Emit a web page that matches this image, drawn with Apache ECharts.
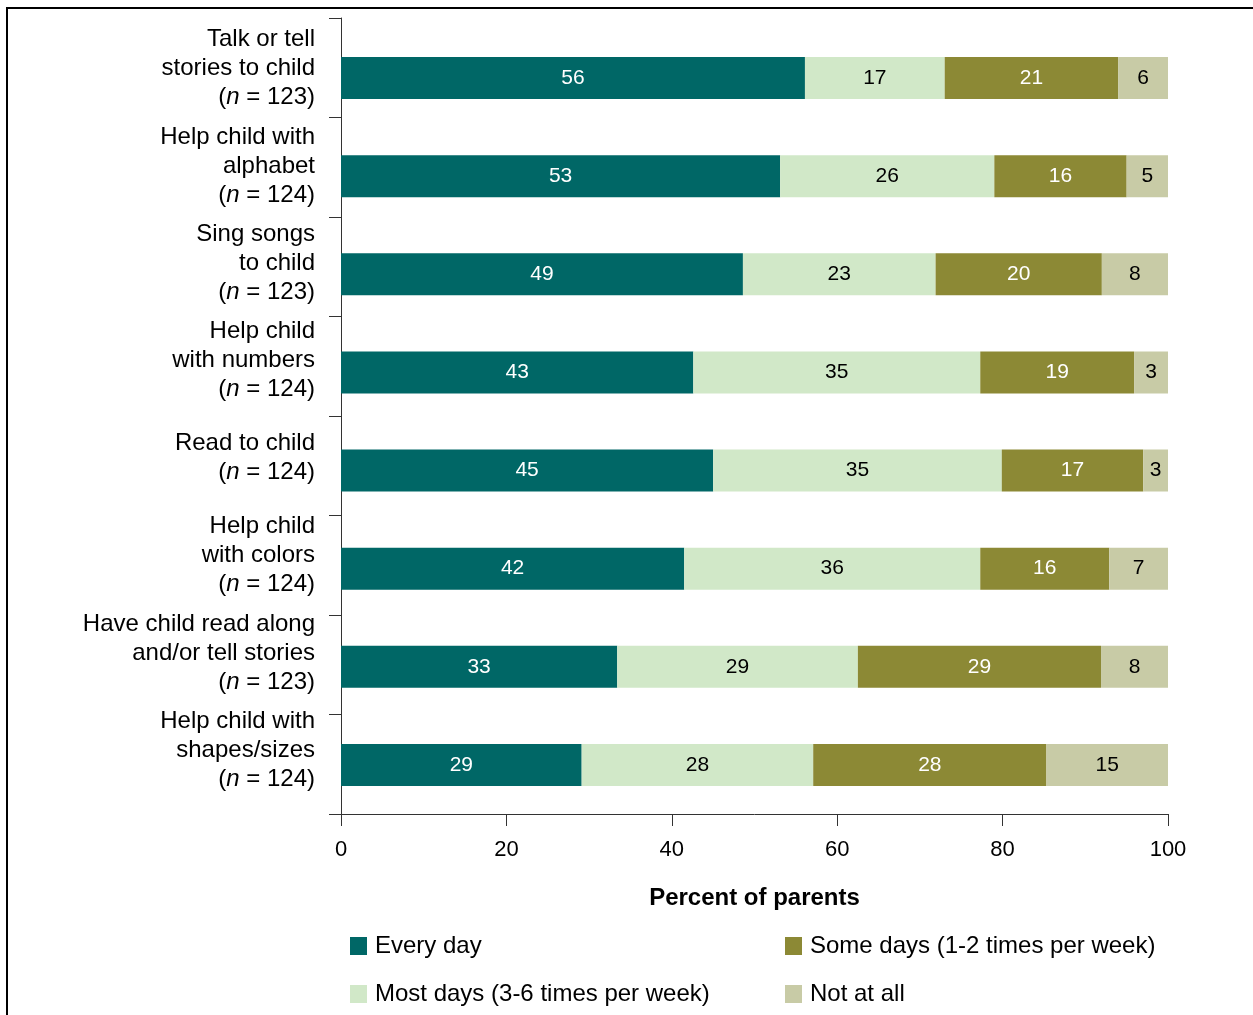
<!DOCTYPE html>
<html>
<head>
<meta charset="utf-8">
<script src="https://cdn.jsdelivr.net/npm/echarts@6/dist/echarts.min.js"></script>
<style>html,body{margin:0;padding:0;background:#fff}#c{width:1253px;height:1015px}</style>
</head>
<body>
<div id="c"></div>
<script>
// ---- data ----
var categories = [
  'Talk or tell\nstories to child',
  'Help child with\nalphabet',
  'Sing songs\nto child',
  'Help child\nwith numbers',
  'Read to child',
  'Help child\nwith colors',
  'Have child read along\nand/or tell stories',
  'Help child with\nshapes/sizes'
];
var sampleSizes = [123, 124, 123, 124, 124, 124, 123, 124];
var seriesNames = ['Every day', 'Most days (3-6 times per week)', 'Some days (1-2 times per week)', 'Not at all'];
// bar lengths as drawn (percent)
var everyDay = [56.1, 53.1, 48.6, 42.6, 45.0, 41.5, 33.4, 29.1];
var mostDays = [16.9, 25.9, 23.3, 34.7, 34.9, 35.8, 29.1, 28.0];
var someDays = [21.0, 16.0, 20.1, 18.6, 17.1, 15.6, 29.4, 28.2];
var notAtAll = [6.0, 5.0, 8.0, 4.1, 3.0, 7.1, 8.1, 14.7];
// printed value labels
var everyDayLabels = [56, 53, 49, 43, 45, 42, 33, 29];
var mostDaysLabels = [17, 26, 23, 35, 35, 36, 29, 28];
var someDaysLabels = [21, 16, 20, 19, 17, 16, 29, 28];
var notAtAllLabels = [6, 5, 8, 3, 3, 7, 8, 15];
var xTicks = [0, 20, 40, 60, 80, 100];

var FONT = "'Liberation Sans', Arial, sans-serif";
var colors = ['#006766', '#d1e8c8', '#8c8935', '#c8cba6'];
var labelColors = ['#ffffff', '#000000', '#ffffff', '#000000'];
var values = [everyDay, mostDays, someDays, notAtAll];
var labelsArr = [everyDayLabels, mostDaysLabels, someDaysLabels, notAtAllLabels];

var chart = echarts.init(document.getElementById('c'), null, {renderer: 'canvas'});

var series = seriesNames.map(function (name, i) {
  return {
    name: name,
    type: 'bar',
    stack: 'total',
    xAxisIndex: 1,
    yAxisIndex: 1,
    barWidth: 42,
    data: values[i],
    itemStyle: {color: colors[i]},
    label: {
      show: true,
      position: 'inside',
      color: labelColors[i],
      fontFamily: FONT,
      fontSize: 21,
      formatter: function (p) { return String(labelsArr[i][p.dataIndex]); }
    },
    emphasis: {disabled: true}
  };
});

var option = {
  animation: false,
  backgroundColor: '#ffffff',
  textStyle: {fontFamily: FONT},
  graphic: [{
    type: 'rect',
    shape: {x: 7, y: 8, width: 1250, height: 1015},
    style: {fill: 'none', stroke: '#000', lineWidth: 2},
    silent: true
  }],
  grid: [
    {left: 341, right: 85, top: 18, bottom: 201, containLabel: false},
    {left: 341, right: 85, top: 29, bottom: 201, containLabel: false},
    {left: 341, right: 85, top: 20, bottom: 216, containLabel: false}
  ],
  xAxis: [
    {
      gridIndex: 0, type: 'value', min: 0, max: 100, interval: 20,
      axisLine: {show: true, lineStyle: {color: '#333', width: 1}},
      axisTick: {show: true, length: 12, lineStyle: {color: '#333'}},
      splitLine: {show: false},
      axisLabel: {
        fontFamily: FONT, fontSize: 22, color: '#000', margin: 25,
        formatter: function (v) { return xTicks.indexOf(v) >= 0 ? String(v) : ''; }
      },
      name: 'Percent of parents',
      nameLocation: 'middle',
      nameGap: 72,
      nameTextStyle: {fontFamily: FONT, fontSize: 24, fontWeight: 'bold', color: '#000'}
    },
    {gridIndex: 1, type: 'value', min: 0, max: 100, show: false},
    {gridIndex: 2, type: 'value', min: 0, max: 100, show: false}
  ],
  yAxis: [
    {
      gridIndex: 0, type: 'category', inverse: true, data: categories,
      axisLine: {show: true, lineStyle: {color: '#333', width: 1}},
      axisTick: {show: true, length: 12, lineStyle: {color: '#333'}},
      axisLabel: {show: false}
    },
    {gridIndex: 1, type: 'category', inverse: true, data: categories, show: false},
    {
      gridIndex: 2, type: 'category', inverse: true, data: categories,
      axisLine: {show: false}, axisTick: {show: false},
      axisLabel: {
        show: true, margin: 26, align: 'right',
        fontFamily: FONT, fontSize: 24, lineHeight: 29, color: '#000',
        formatter: function (v, idx) {
          return v + '\n({i|n} = ' + sampleSizes[idx] + ')';
        },
        rich: {
          i: {fontFamily: FONT, fontSize: 24, lineHeight: 29, fontStyle: 'italic', color: '#000'}
        }
      }
    }
  ],
  legend: [
    {
      data: [seriesNames[0], seriesNames[1]],
      orient: 'vertical', left: 345, top: 929,
      itemWidth: 17, itemHeight: 18, itemGap: 24, icon: 'rect',
      textStyle: {fontFamily: FONT, fontSize: 24, lineHeight: 24, color: '#000', padding: [0, 0, 0, 3]},
      selectedMode: false
    },
    {
      data: [seriesNames[2], seriesNames[3]],
      orient: 'vertical', left: 780, top: 929,
      itemWidth: 17, itemHeight: 18, itemGap: 24, icon: 'rect',
      textStyle: {fontFamily: FONT, fontSize: 24, lineHeight: 24, color: '#000', padding: [0, 0, 0, 3]},
      selectedMode: false
    }
  ],
  series: series
};
chart.setOption(option);
</script>
</body>
</html>
